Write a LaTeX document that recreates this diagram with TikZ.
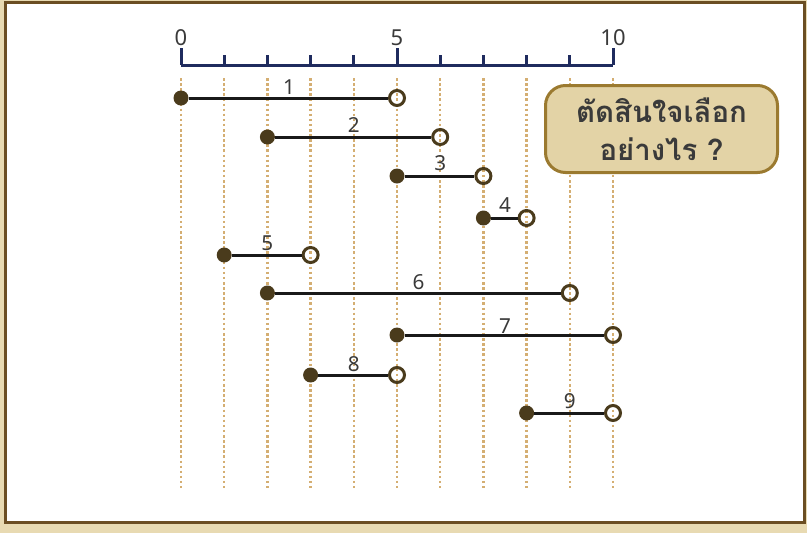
\documentclass[tikz,border=0pt]{standalone}
\usepackage{fontspec}
\setmainfont{Noto Sans}
\newfontfamily\thaifont[Script=Thai]{Loma}
\usetikzlibrary{calc}
\definecolor{bgbeige}{HTML}{E8DAB2}
\definecolor{framebrown}{HTML}{6B4E23}
\definecolor{axisblue}{HTML}{1F2B5E}
\definecolor{dotbrown}{HTML}{4A3B1C}
\definecolor{guidetan}{HTML}{D4AE72}
\definecolor{labgray}{HTML}{3A3A3A}
\definecolor{boxfill}{HTML}{E3D3A6}
\definecolor{boxline}{HTML}{9B7A30}
\tikzset{
  guide/.style={guidetan, line width=2.5pt*0.75, dash pattern=on 2.5*0.75pt off 2.6*0.75pt},
  axisline/.style={axisblue, line width=3pt*0.75},
  seg/.style={black!90, line width=3pt*0.75},
  startdot/.style={circle, fill=dotbrown, inner sep=0pt, minimum size=15*0.75pt},
  enddot/.style={circle, draw=dotbrown, line width=3*0.75pt, inner sep=0pt, minimum size=15*0.75pt},
  ticklab/.style={text=labgray, font=\fontsize{16.5}{19}\selectfont, inner sep=0pt},
  seglab/.style={text=labgray, font=\fontsize{15.5}{18}\selectfont, inner sep=0pt},
  qbox/.style={rounded corners=20*0.75pt, fill=boxfill, draw=boxline, line width=3*0.75pt,
    minimum width=232*0.75pt, minimum height=87*0.75pt, align=center,
    text=labgray, font=\thaifont\bfseries\fontsize{22}{28.5}\selectfont}
}
\begin{document}
\begin{tikzpicture}[x=0.75pt,y=-0.75pt]
\useasboundingbox (0,0) rectangle (807,533);
\fill[bgbeige] (0,0) rectangle (807,533);
\filldraw[fill=white, draw=framebrown, line width=3*0.75pt] (5,2) rectangle (804,522);
% guides
\foreach \i in {0,...,10} {
  \draw[guide] ({181+43.2*\i},78) -- ({181+43.2*\i},488);
}
% axis
\draw[axisline] (181,65) -- (613,65);
\foreach \i in {1,2,3,4,6,7,8,9} {
  \draw[axisline] ({181+43.2*\i},65) -- ({181+43.2*\i},55);
}
\foreach \i in {0,5,10} {
  \draw[axisline] ({181+43.2*\i},65) -- ({181+43.2*\i},48);
}
\node[ticklab] (t0) at (181,38) {0};
\node[ticklab] (t5) at (397,38) {5};
\node[ticklab] (t10) at (613,38) {10};
% intervals
\foreach \n/\a/\b/\y/\ly in {1/0/5/98/87, 2/2/6/137/125, 3/5/7/176/163, 4/7/8/218/205, 5/1/3/255/243, 6/2/9/293/282, 7/5/10/335/326, 8/3/5/375/364, 9/8/10/413/401} {
  \node[startdot] (s\n) at ({181+43.2*\a},\y) {};
  \node[enddot] (e\n) at ({181+43.2*\b},\y) {};
  \draw[seg] (s\n) -- (e\n);
  \node[seglab] (l\n) at ({181+43.2*(\a+\b)/2},\ly) {\n};
}
% question box
\node[qbox] (q) at (661.5,129) {ตัดสินใจเลือก\\อย่างไร ?};
\end{tikzpicture}
\end{document}
